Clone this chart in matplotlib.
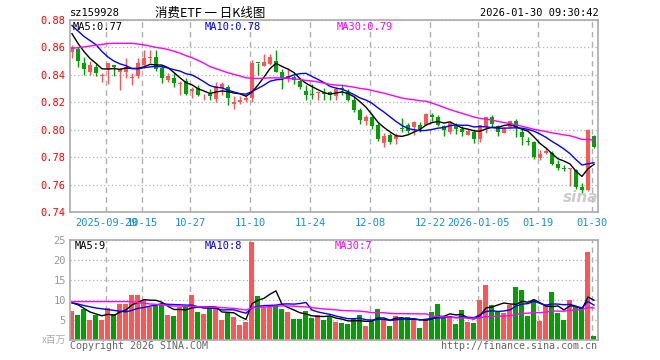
import numpy as np
import pandas as pd
import matplotlib
matplotlib.use("Agg")
from matplotlib import pyplot as plt

plt.rcParams['font.family'] = ['DejaVu Sans Mono', 'Noto Sans CJK SC']

# trading days (weekdays minus China holidays)
holidays = pd.to_datetime(["2025-10-01", "2025-10-02", "2025-10-03", "2025-10-06",
                           "2025-10-07", "2025-10-08", "2026-01-01", "2026-01-02"])
dates = pd.bdate_range("2025-09-19", "2026-01-30")
dates = dates[~dates.isin(holidays)]

open_p = [.857, .859, .849, .842, .846, .839, .844, .847, .842, .842,
          .838, .8395, .847, .852, .853, .845, .8365, .838, .833, .8355,
          .828, .8306, .825, .8263, .8224, .8306, .831, .8185, .820, .8215,
          .8234, .849, .8467, .8477, .850, .842, .8375, .8384, .8355, .8282,
          .826, .8268, .8268, .8277, .8246, .830, .8275, .822, .8144, .8066,
          .809, .8032, .7905, .796, .7935, .801, .8032, .8018, .8032, .8037,
          .811, .809, .8027, .7984, .8027, .8007, .7964, .7984, .793, .8022,
          .809, .8027, .7978, .8022, .8066, .7984, .7915, .7911, .7794, .7828,
          .7828, .775, .772, .7715, .7706, .758, .756, .7954]
high_p = [.862, .860, .853, .850, .848, .841, .849, .847, .845, .8525,
          .8416, .852, .858, .858, .858, .847, .841, .841, .8355, .8375,
          .831, .8326, .8258, .830, .8346, .8346, .8326, .8248, .8248, .8253,
          .8506, .849, .8554, .8554, .858, .844, .845, .840, .8378, .8326,
          .8336, .828, .8306, .828, .8314, .8334, .8295, .824, .8158, .811,
          .8115, .8047, .7974, .7974, .7978, .8086, .8047, .8066, .8056, .8122,
          .812, .8105, .8037, .8056, .8047, .8027, .8007, .8003, .8037, .8095,
          .811, .8037, .8022, .8066, .8076, .8003, .795, .7916, .7852, .7872,
          .7847, .7779, .7741, .772, .7716, .761, .8005, .7964]
low_p = [.852, .846, .840, .840, .839, .835, .833, .839, .829, .838,
         .8326, .838, .845, .849, .843, .834, .835, .831, .825, .825,
         .823, .8244, .822, .8215, .820, .825, .818, .815, .819, .820,
         .820, .840, .8467, .847, .842, .830, .835, .833, .830, .822,
         .8224, .8215, .8215, .822, .822, .825, .821, .813, .804, .8037,
         .8007, .7916, .7872, .7896, .7896, .7984, .7974, .796, .7985, .8032,
         .8066, .8027, .7954, .7969, .7969, .7954, .7964, .790, .791, .7978,
         .802, .7954, .7974, .801, .795, .789, .789, .779, .7779, .7823,
         .774, .7706, .7697, .759, .757, .7537, .7555, .787]
close_p = [.860, .850, .844, .847, .841, .840, .849, .846, .844, .846,
           .8385, .8487, .852, .853, .844, .838, .8394, .834, .834, .8263,
           .830, .8253, .8255, .8248, .832, .8336, .823, .8204, .822, .823,
           .8487, .8487, .8492, .853, .8423, .8375, .839, .8365, .831, .8253,
           .8255, .8277, .8258, .8253, .8295, .8295, .8217, .8144, .8071, .8095,
           .8027, .7935, .7954, .791, .7954, .8005, .799, .8056, .8003, .8115,
           .8095, .8032, .7998, .8047, .8003, .7984, .7989, .7935, .8032, .809,
           .8042, .7984, .8007, .806, .8018, .795, .791, .780, .7823, .7847,
           .775, .7721, .7716, .772, .758, .756, .800, .7876]
# volume, millions
volume = [7.3, 6.25, 7.8, 5.0, 6.25, 5.0, 8.1, 6.5, 9.0, 9.0,
          11.25, 11.25, 10.0, 8.3, 8.8, 8.8, 6.25, 6.0, 8.3, 8.3,
          11.25, 7.1, 6.5, 8.3, 8.1, 5.0, 6.7, 5.8, 3.75, 4.5,
          24.6, 11.0, 8.3, 8.75, 8.75, 7.8, 7.0, 5.25, 5.25, 7.25,
          5.5, 6.25, 5.1, 6.0, 4.5, 4.25, 4.0, 5.2, 6.25, 3.5,
          4.8, 7.75, 5.2, 3.5, 6.0, 5.4, 5.8, 5.2, 3.0, 5.25,
          7.0, 9.0, 5.4, 6.0, 4.0, 7.5, 4.5, 4.25, 10.0, 13.75,
          8.75, 7.1, 6.7, 8.75, 13.25, 12.5, 6.0, 10.0, 4.8, 9.0,
          12.0, 6.75, 5.0, 10.0, 8.3, 8.3, 22.1, 1.0]

# MA values before enough history is on screen
ma5_head = [.870, .863, .857, .852]
ma10_head = [.876, .872, .868, .865, .862, .857, .853, .850, .848]
ma30_head = [.8594, .8598, .8604, .8610, .8616, .8622, .8628, .863, .863, .863,
             .863, .8625, .8618, .8610, .8600, .8594, .8585, .8572, .8558, .8540,
             .8525, .8505, .8485, .8460, .8445, .8430, .8415, .8403, .8392]
vma5_head = [9.3, 8.8, 7.9, 7.0]
vma10_head = [9.3, 9.0, 8.6, 8.3, 8.0, 7.8, 7.6, 7.4, 7.2]
vma30_head = [9.6] * 11 + [9.3, 9.2, 9.0, 8.9, 8.8, 8.6, 8.5, 8.5, 8.4,
                           8.4, 8.3, 8.3, 8.2, 8.2, 8.1, 8.0, 7.9, 7.7]

tick_dates = ["2025-09-29", "2025-10-15", "2025-10-27", "2025-11-10", "2025-11-24",
              "2025-12-08", "2025-12-22", "2026-01-05", "2026-01-19", "2026-01-30"]
tick_labels = ["2025-09-29", "10-15", "10-27", "11-10", "11-24",
               "12-08", "12-22", "2026-01-05", "01-19", "01-30"]


def moving_avg(values, n, head):
    s = pd.Series(values).rolling(n).mean()
    s.iloc[:len(head)] = head
    return s


RED = "#ff5555"
GREEN = "#00a000"
GRID = "#b0b0b0"
W, H = 660, 360


def box(left, top, right, bottom):
    return [left / W, 1 - bottom / H, (right - left) / W, (bottom - top) / H]


o = np.array(open_p)
c = np.array(close_p)
x = np.arange(len(dates))
colors = np.where(c >= o, RED, GREEN)
tick_pos = np.array([dates.get_loc(pd.Timestamp(d)) for d in tick_dates]) - 0.33

fig = plt.figure(figsize=(6.6, 3.6), dpi=100)
ax = fig.add_axes(box(70, 20, 598, 212))
axv = fig.add_axes(box(70, 240, 598, 340))

# price panel
ax.vlines(x, low_p, high_p, colors=colors, lw=1)
ax.bar(x, np.maximum(abs(c - o), 0.0006), bottom=np.minimum(o, c), width=0.75,
       color=colors, linewidth=0)
ax.plot(x, moving_avg(close_p, 5, ma5_head), color="black", lw=1)
ax.plot(x, moving_avg(close_p, 10, ma10_head), color="blue", lw=1)
ax.plot(x, moving_avg(close_p, 30, ma30_head), color="magenta", lw=1)
ax.set_xlim(-0.33, len(x) - 0.33)
ax.set_ylim(0.74, 0.88)
yt = np.arange(0.74, 0.8801, 0.02)
ax.set_yticks(yt)
ax.set_yticklabels([f"{v:.2f}" for v in yt], color="red", fontsize=7.5)
ax.set_xticks(tick_pos)
ax.set_xticklabels(tick_labels, color="#1a8cd8", fontsize=7.5)

# volume panel
axv.bar(x, volume, width=0.83, color=colors, linewidth=0)
axv.plot(x, moving_avg(volume, 5, vma5_head), color="black", lw=1)
axv.plot(x, moving_avg(volume, 10, vma10_head), color="blue", lw=1)
axv.plot(x, moving_avg(volume, 30, vma30_head), color="magenta", lw=1)
axv.set_xlim(-0.33, len(x) - 0.33)
axv.set_ylim(0, 25)
axv.set_yticks([5, 10, 15, 20, 25])
axv.set_yticklabels(["5", "10", "15", "20", "25"], color="#999999", fontsize=7.5)
axv.set_xticks(tick_pos)
axv.set_xticklabels([])

for a in (ax, axv):
    a.tick_params(length=0, pad=3)
    a.grid(axis="y", linestyle=(0, (1, 2)), color=GRID, lw=0.9)
    a.grid(axis="x", linestyle=(0, (4, 3)), color=GRID, lw=1)
    a.set_axisbelow(True)
    for sp in a.spines.values():
        sp.set_color("#aaaaaa")
        sp.set_linewidth(1.2)
ax.tick_params(axis="x", pad=4)

# texts
def ftext(px, py, s, **kw):
    fig.text(px / W, 1 - py / H, s, **kw)

ftext(70, 13, "sz159928", fontsize=7.5, va="center")
ftext(210, 13, "消费ETF 一 日K线图", fontsize=9, va="center", ha="center",
      family=["Noto Sans CJK SC", "DejaVu Sans"])
ftext(599, 13, "2026-01-30 09:30:42", fontsize=7.5, va="center", ha="right")
ftext(73, 27, "MA5:0.77", fontsize=7.5, va="center", color="black")
ftext(205, 27, "MA10:0.78", fontsize=7.5, va="center", color="blue")
ftext(337, 27, "MA30:0.79", fontsize=7.5, va="center", color="magenta")
ftext(75, 246, "MA5:9", fontsize=7.5, va="center", color="black")
ftext(205, 246, "MA10:8", fontsize=7.5, va="center", color="blue")
ftext(335, 246, "MA30:7", fontsize=7.5, va="center", color="magenta")
ftext(66, 340, "x百万", fontsize=7, va="center", ha="right", color="#aaaaaa",
      family=["Noto Sans CJK SC", "DejaVu Sans"])
ftext(70, 346, "Copyright 2026 SINA.COM", fontsize=7.2, va="center", color="#666666")
ftext(597, 346, "http://finance.sina.com.cn", fontsize=7.2, va="center", ha="right",
      color="#666666")
ftext(581, 197, "sina", fontsize=11, va="center", ha="center", color="#cccccc",
      style="italic", weight="bold", family="DejaVu Sans")

fig.savefig("out.png", dpi=100)
